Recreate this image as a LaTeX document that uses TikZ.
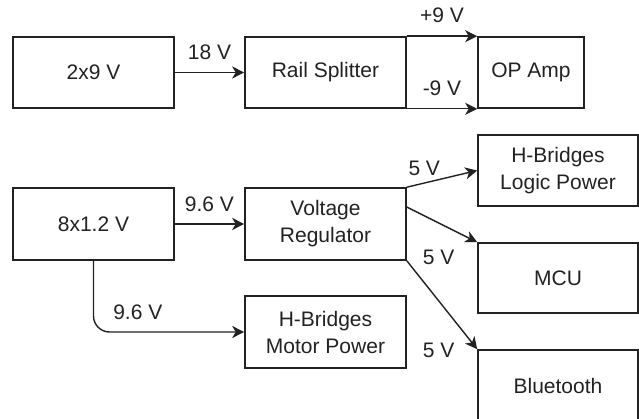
\documentclass[tikz,border=0pt]{standalone}
\usepackage{fontspec}
\setmainfont{Liberation Sans}
\usetikzlibrary{arrows.meta, positioning, calc}
\definecolor{ink}{HTML}{222222}

\begin{document}
\begin{tikzpicture}[x=1pt, y=-1pt,
                    box/.style={draw=ink, line width=1.6pt, align=center, inner sep=0pt, minimum width=161pt, minimum height=71pt, text=ink, font=\fontsize{21}{27}\selectfont},
                    lbl/.style={inner sep=0pt, text=ink, font=\fontsize{21}{24}\selectfont},
                    arr/.style={-{Stealth[length=12pt, width=12pt, inset=3.5pt]}, draw=ink, line width=1.4pt}]
        \useasboundingbox (0,0) rectangle (639,419);
        \node[box] (bat) at (93.5,72.5) {2x9 V};
        \node[box] (split) at (325.5,72.5) {Rail Splitter};
        \node[box, minimum width=106pt] (opamp) at (531,72.5) {OP Amp};
        \node[box, minimum height=72pt] (cells) at (93.5,224) {8x1.2 V};
        \node[box, minimum height=72pt] (reg) at (325.5,224) {Voltage\\Regulator};
        \node[box, minimum width=160pt] (logic) at (558,170.5) {H-Bridges\\Logic Power};
        \node[box, minimum width=160pt, minimum height=70pt] (mcu) at (558,278) {MCU};
        \node[box, minimum width=160pt] (bt) at (558,385.5) {Bluetooth};
        \node[box, minimum height=72pt] (motor) at (325.5,332) {H-Bridges\\Motor Power};
        \foreach \s/\t/\l in {bat/split/18 V, cells/reg/9.6 V} \draw[arr] (\s) -- node[lbl, above=12pt] {\l} (\t);
        \draw[arr] (split.north east) -- node[lbl, above=13pt] {+9 V} (opamp.north west);
        \draw[arr] (split.south east) -- node[lbl, above=12pt] {-9 V} (opamp.south west);
        \draw[arr, rounded corners=16pt] (cells.south) |- node[lbl, pos=0.647, above=12pt] {9.6 V} (motor.west);
        \draw[arr] (reg.north east) -- node[lbl, pos=0, anchor=south west, xshift=1pt, yshift=11pt] {5 V} (logic.west);
        \draw[arr] ([yshift=17pt]reg.east) -- node[lbl, pos=1, anchor=east, xshift=-22pt, yshift=-15pt] {5 V} (mcu.north west);
        \draw[arr] (reg.south east) -- node[lbl, pos=1, anchor=east, xshift=-22pt, yshift=-1pt] {5 V} (bt.north west);
    \end{tikzpicture}
\end{document}
